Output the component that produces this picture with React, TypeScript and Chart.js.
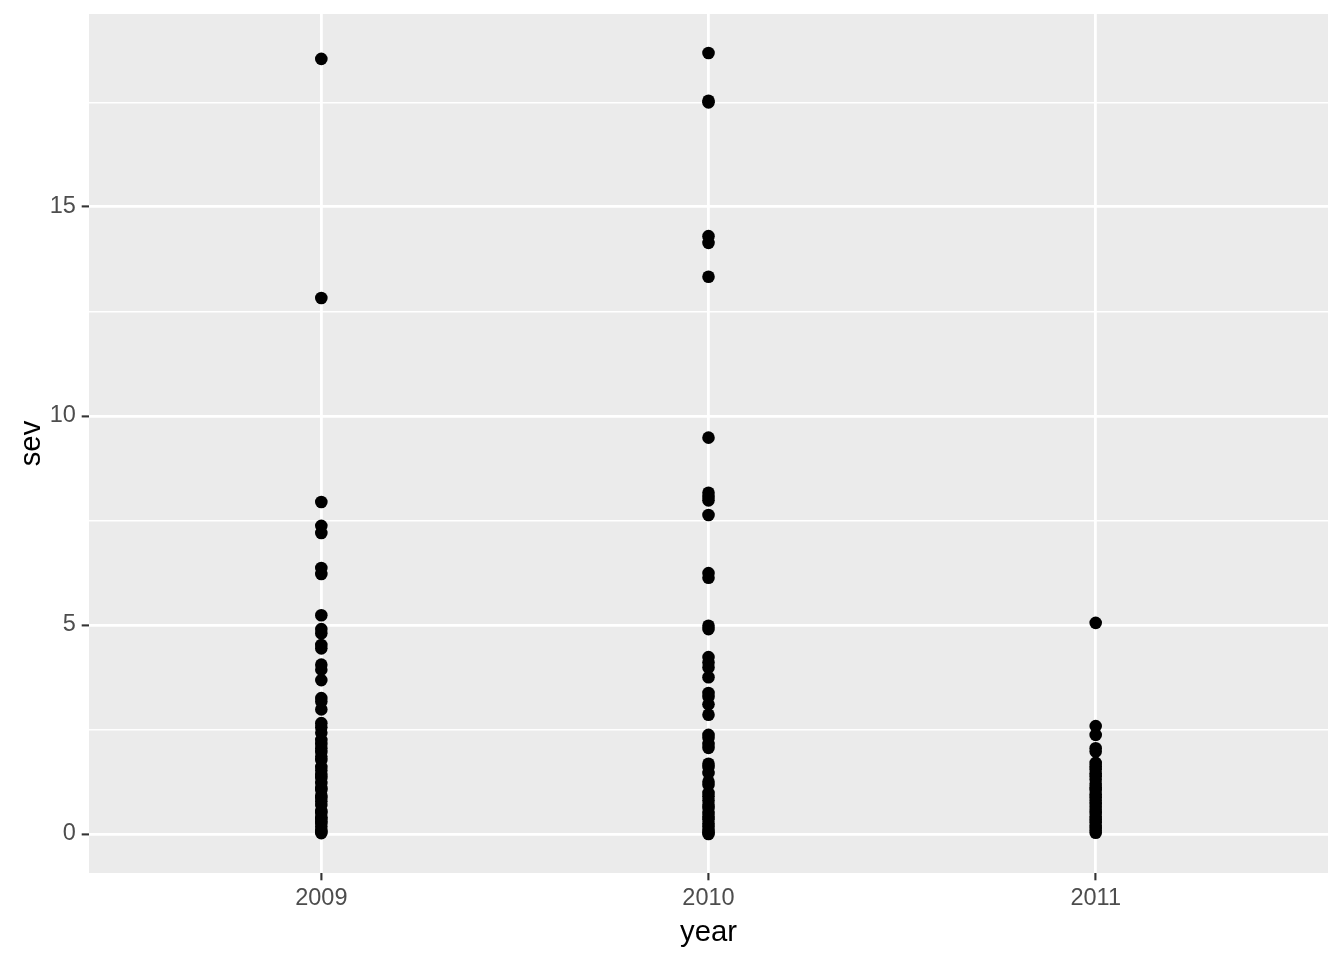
import React, { useEffect, useRef } from "react";
import { Chart, registerables } from "chart.js";

Chart.register(...registerables);

const years = [2009, 2010, 2011];
const sev2009 = [18.54, 12.82, 7.94, 7.37, 7.2, 6.36, 6.22, 5.23, 4.9, 4.8, 4.52, 4.44, 4.05, 3.93, 3.68, 3.25, 3.17, 2.98, 2.65, 2.55, 2.42, 2.25, 2.15, 2.05, 1.96, 1.85, 1.77, 1.6, 1.52, 1.41, 1.34, 1.22, 1.1, 1.05, 0.92, 0.86, 0.78, 0.69, 0.55, 0.5, 0.4, 0.36, 0.3, 0.26, 0.18, 0.1, 0.05, 0.02];
const sev2010 = [18.68, 17.54, 17.5, 14.3, 14.14, 13.33, 9.48, 8.16, 8.06, 7.98, 7.63, 6.24, 6.13, 4.98, 4.9, 4.23, 4.1, 3.98, 3.75, 3.37, 3.28, 3.1, 2.85, 2.37, 2.3, 2.15, 2.06, 1.68, 1.6, 1.46, 1.25, 1.18, 0.98, 0.9, 0.8, 0.7, 0.62, 0.5, 0.42, 0.35, 0.25, 0.18, 0.1, 0.04, 0.0];
const sev2011 = [5.05, 2.58, 2.37, 2.05, 1.97, 1.7, 1.62, 1.55, 1.45, 1.38, 1.3, 1.2, 1.12, 1.05, 0.95, 0.88, 0.8, 0.72, 0.65, 0.58, 0.5, 0.42, 0.35, 0.28, 0.2, 0.14, 0.08, 0.03];
const yMajorTicks = [0, 5, 10, 15];
const yAllTicks = [0, 2.5, 5, 7.5, 10, 12.5, 15, 17.5];
const xTickLabels = ["2009", "2010", "2011"];

const FONT = "'Liberation Sans', Arial, Helvetica, sans-serif";

export default function App() {
  const ref = useRef<HTMLCanvasElement | null>(null);

  useEffect(() => {
    if (!ref.current) return;
    const series = [sev2009, sev2010, sev2011];
    const points: { x: number; y: number }[] = [];
    series.forEach((arr, i) => arr.forEach((v) => points.push({ x: years[i], y: v })));
    const all = points.map((p) => p.y);
    const dMin = Math.min(...all);
    const dMax = Math.max(...all);
    const pad = (dMax - dMin) * 0.05;

    const bgPlugin = {
      id: "panelBg",
      beforeDraw(chart: any) {
        const { ctx, chartArea } = chart;
        ctx.save();
        ctx.fillStyle = "#EBEBEB";
        ctx.fillRect(chartArea.left, chartArea.top, chartArea.right - chartArea.left, chartArea.bottom - chartArea.top);
        ctx.restore();
      },
    };

    const chart = new Chart(ref.current, {
      type: "scatter",
      data: {
        datasets: [
          {
            data: points,
            backgroundColor: "#000000",
            borderWidth: 0,
            pointRadius: 6.3,
            pointHoverRadius: 6.3,
          },
        ],
      },
      options: {
        animation: false,
        responsive: true,
        maintainAspectRatio: false,
        devicePixelRatio: 1,
        layout: { padding: { left: 0, top: 14, right: 16, bottom: 0 } },
        plugins: { legend: { display: false }, tooltip: { enabled: false } },
        scales: {
          x: {
            type: "linear",
            min: years[0] - 0.6,
            max: years[years.length - 1] + 0.6,
            afterBuildTicks: (scale: any) => {
              scale.ticks = years.map((v) => ({ value: v }));
            },
            afterFit: (scale: any) => {
              scale.height = 87;
              scale.paddingLeft = 0;
              scale.paddingRight = 0;
            },
            border: { display: false },
            grid: {
              color: "#FFFFFF",
              lineWidth: 2.8,
              tickLength: 7.3,
              tickColor: "#333333",
              tickWidth: 2.1,
            },
            ticks: {
              autoSkip: false,
              maxRotation: 0,
              padding: 4,
              color: "#4D4D4D",
              font: { family: FONT, size: 23.5 },
              callback: (v: any) => {
                const i = years.indexOf(Number(v));
                return i >= 0 ? xTickLabels[i] : "";
              },
            },
            title: {
              display: true,
              text: "year",
              color: "#000000",
              font: { family: FONT, size: 29.3 },
              padding: { top: 0, bottom: 10 },
            },
          },
          y: {
            type: "linear",
            min: dMin - pad,
            max: dMax + pad,
            afterBuildTicks: (scale: any) => {
              scale.ticks = yAllTicks.map((v) => ({ value: v }));
            },
            afterFit: (scale: any) => {
              scale.width = 89;
              scale.paddingTop = 0;
              scale.paddingBottom = 0;
            },
            border: { display: false },
            grid: {
              color: "#FFFFFF",
              lineWidth: (c: any) => (yMajorTicks.includes(c.tick?.value) ? 2.8 : 1.4),
              tickLength: 7.3,
              tickColor: (c: any) => (yMajorTicks.includes(c.tick?.value) ? "#333333" : "rgba(0,0,0,0)"),
              tickWidth: 2.1,
            },
            ticks: {
              autoSkip: false,
              padding: 5.9,
              color: "#4D4D4D",
              font: { family: FONT, size: 23.5 },
              callback: (v: any) => (yMajorTicks.includes(Number(v)) ? String(v) : ""),
            },
            title: {
              display: true,
              text: "sev",
              color: "#000000",
              font: { family: FONT, size: 29.3 },
              padding: { top: 14, bottom: 0 },
            },
          },
        },
      },
      plugins: [bgPlugin],
    });
    return () => chart.destroy();
  }, []);

  return (
    <div style={{ position: "fixed", left: 0, top: 0, width: 1344, height: 960, background: "#FFFFFF" }}>
      <canvas ref={ref} />
    </div>
  );
}
